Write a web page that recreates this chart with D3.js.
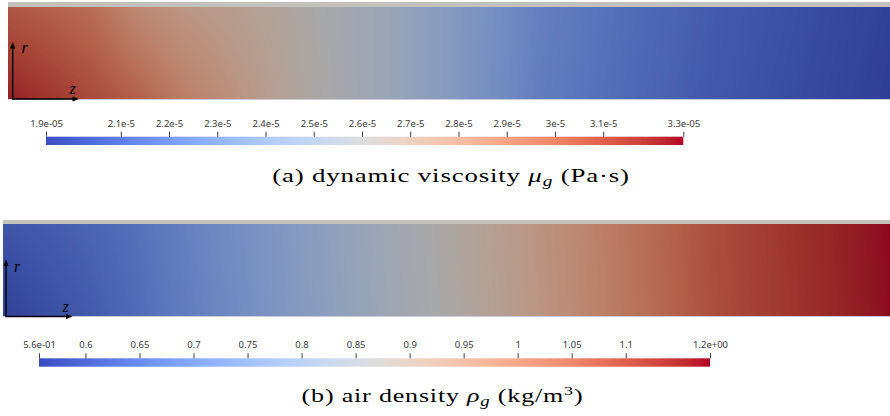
<!DOCTYPE html>
<html><head><meta charset="utf-8">
<script src="https://cdn.jsdelivr.net/npm/d3@7"></script>
<style>body{margin:0;background:#fff}svg{display:block}</style>
</head><body>
<svg id="chart" width="890" height="416"></svg>
<script>
// ---------- data ----------
const zFrac = [0,0.05,0.1,0.15,0.2,0.25,0.3,0.35,0.4,0.45,0.5,0.6,0.7,0.8,0.9,1.0];
// dynamic viscosity along axis (r=0) and at wall (r=R)
const muAxis = [3.226e-5,3.160e-5,3.094e-5,3.015e-5,2.896e-5,2.804e-5,2.711e-5,2.619e-5,2.553e-5,2.487e-5,2.407e-5,2.236e-5,2.143e-5,2.064e-5,2.011e-5,1.958e-5];
const muWall = [3.055e-5,3.015e-5,2.962e-5,2.830e-5,2.764e-5,2.724e-5,2.672e-5,2.606e-5,2.553e-5,2.487e-5,2.407e-5,2.249e-5,2.156e-5,2.077e-5,2.024e-5,1.971e-5];
const muRange = [1.945e-5,3.266e-5];
const muTicks = [1.945e-5,2.1e-5,2.2e-5,2.3e-5,2.4e-5,2.5e-5,2.6e-5,2.7e-5,2.8e-5,2.9e-5,3.0e-5,3.1e-5,3.266e-5];
const muLabels = ["1.9e-05","2.1e-5","2.2e-5","2.3e-5","2.4e-5","2.5e-5","2.6e-5","2.7e-5","2.8e-5","2.9e-5","3e-5","3.1e-5","3.3e-05"];
// air density along axis and at wall
const rhoAxis = [0.569,0.594,0.619,0.650,0.687,0.718,0.750,0.781,0.812,0.843,0.874,0.942,1.017,1.091,1.135,1.172];
const rhoWall = [0.607,0.619,0.638,0.662,0.695,0.724,0.755,0.786,0.816,0.848,0.879,0.947,1.021,1.094,1.138,1.174];
const rhoRange = [0.557,1.178];
const rhoTicks = [0.557,0.6,0.65,0.7,0.75,0.8,0.85,0.9,0.95,1.0,1.05,1.1,1.178];
const rhoLabels = ["5.6e-01","0.6","0.65","0.7","0.75","0.8","0.85","0.9","0.95","1","1.05","1.1","1.2e+00"];

// Cool to Warm colormap
const coolWarm = [[59,76,192],[68,90,204],[77,104,215],[87,117,225],[98,130,234],[108,142,241],[119,154,247],[130,165,251],[141,176,254],[152,185,255],[163,194,255],[174,201,253],[184,208,249],[194,213,244],[204,217,238],[213,219,230],[221,221,221],[229,216,209],[236,211,197],[241,204,185],[245,196,173],[247,187,160],[247,177,148],[247,166,135],[244,154,123],[241,141,111],[236,127,99],[229,112,88],[222,96,77],[213,80,66],[203,62,56],[192,40,47],[180,4,38]];

const svg = d3.select("#chart");
const cmapT = d3.range(coolWarm.length).map(i => i/(coolWarm.length-1));
const cmap = d3.scaleLinear().domain(cmapT).range(coolWarm.map(c => d3.rgb(c[0],c[1],c[2]))).interpolate(d3.interpolateRgb).clamp(true);
const LUTN = 1024;
const lut = d3.range(LUTN).map(i => d3.rgb(cmap(i/(LUTN-1))));
const shade = 0.76;

function drawField(x0, y0, w, h, axisVals, wallVals, range) {
  const canvas = document.createElement("canvas");
  canvas.width = w; canvas.height = h;
  const ctx = canvas.getContext("2d");
  const img = ctx.createImageData(w, h);
  const zScale = d3.scaleLinear().domain([0, w]).range([0, 1]);
  const rScale = d3.scaleLinear().domain([h, 0]).range([0, 1]);
  const axisS = d3.scaleLinear().domain(zFrac).range(axisVals);
  const wallS = d3.scaleLinear().domain(zFrac).range(wallVals);
  const tS = d3.scaleLinear().domain(range).range([0, LUTN-1]).clamp(true);
  for (let x = 0; x < w; x++) {
    const z = zScale(x + 0.5), a = axisS(z), b = wallS(z);
    for (let y = 0; y < h; y++) {
      const s = rScale(y + 0.5);
      const v = a + (b - a) * s;
      const c = lut[Math.round(tS(v))];
      const k = (y * w + x) * 4;
      img.data[k] = c.r * shade; img.data[k+1] = c.g * shade; img.data[k+2] = c.b * shade; img.data[k+3] = 255;
    }
  }
  ctx.putImageData(img, 0, 0);
  svg.append("image").attr("x", x0).attr("y", y0).attr("width", w).attr("height", h)
    .attr("preserveAspectRatio", "none").attr("href", canvas.toDataURL());
}

// gradient for colorbars
const defs = svg.append("defs");
const grad = defs.append("linearGradient").attr("id", "cw").attr("x1", "0%").attr("x2", "100%");
coolWarm.forEach((c, i) => grad.append("stop").attr("offset", (cmapT[i]*100) + "%").attr("stop-color", `rgb(${c[0]},${c[1]},${c[2]})`));

function colorbar(x0, x1, yTop, h, range, ticks, labels, pad) {
  const sc = d3.scaleLinear().domain(range).range([x0, x1]);
  svg.append("rect").attr("x", x0).attr("y", yTop).attr("width", x1 - x0).attr("height", h).attr("fill", "url(#cw)");
  const ax = d3.axisTop(sc).tickValues(ticks).tickFormat((d, i) => labels[i]).tickSize(5).tickPadding(pad);
  const g = svg.append("g").attr("transform", `translate(0,${yTop})`).call(ax);
  g.select(".domain").remove();
  g.selectAll(".tick line").attr("stroke", "#3c3c3c").attr("stroke-width", 1);
  g.selectAll(".tick text").attr("fill", "#3a3a3a").style("font-family", "'Noto Sans', sans-serif").style("font-size", "9.5px");
}

function axesGlyph(ox, oy, topY, rightX, rPos, zPos) {
  const g = svg.append("g");
  g.append("path").attr("d", `M${ox},${oy}V${topY+5}`).attr("stroke", "#000").attr("stroke-width", 1.4).attr("fill", "none");
  g.append("path").attr("d", `M${ox},${topY}l-2.6,6.5h5.2z`).attr("fill", "#000");
  g.append("path").attr("d", `M${ox-0.7},${oy}H${rightX-5}`).attr("stroke", "#000").attr("stroke-width", 1.4).attr("fill", "none");
  g.append("path").attr("d", `M${rightX},${oy}l-6.5,-2.6v5.2z`).attr("fill", "#000");
  g.append("text").attr("x", rPos[0]).attr("y", rPos[1]).text("r")
    .style("font-family", "'Liberation Serif', serif").style("font-style", "italic").style("font-size", "16px");
  g.append("text").attr("x", zPos[0]).attr("y", zPos[1]).text("z")
    .style("font-family", "'Liberation Serif', serif").style("font-style", "italic").style("font-size", "16px");
}

function caption(cx, baseline, targetW, parts) {
  const fs = 19.5;
  const g = svg.append("g");
  const t = g.append("text").attr("x", 0).attr("y", 0).attr("text-anchor", "middle")
    .style("font-family", "'Liberation Serif', serif").style("font-size", fs + "px").attr("fill", "#000")
    .style("letter-spacing", "0.6px");
  parts.forEach(p => {
    const ts = t.append("tspan").text(p.t);
    if (p.it) ts.style("font-style", "italic");
    if (p.dy) ts.attr("dy", p.dy);
    if (p.fs) ts.style("font-size", p.fs);
  });
  const w = t.node().getComputedTextLength();
  const k = targetW / w;
  g.attr("transform", `translate(${cx},${baseline}) scale(${k},1)`);
  return t;
}

// ---------- panel (a) ----------
svg.append("rect").attr("x", 8).attr("y", 2).attr("width", 882).attr("height", 5).attr("fill", "#c3c1bb");
drawField(8, 7, 882, 92, muAxis, muWall, muRange);
svg.append("rect").attr("x", 8).attr("y", 99).attr("width", 882).attr("height", 1).attr("fill", "#ccccd8");
axesGlyph(12.7, 99, 42, 79, [21.5, 53], [69.5, 94]);
colorbar(46, 683.3, 136.7, 8.3, muRange, muTicks, muLabels, 4.6);

// ---------- panel (b) ----------
svg.append("rect").attr("x", 3).attr("y", 220).attr("width", 887).attr("height", 4).attr("fill", "#c3c1bb");
drawField(3, 224, 887, 92, rhoAxis, rhoWall, rhoRange);
svg.append("rect").attr("x", 3).attr("y", 316).attr("width", 887).attr("height", 1).attr("fill", "#ccccd8");
axesGlyph(6, 316.5, 259.5, 72.5, [14, 272], [62.5, 312]);
colorbar(39, 710, 358.3, 8.4, rhoRange, rhoTicks, rhoLabels, 5.3);

// ---------- captions ----------
caption(451, 182, 358, [{t:"(a) dynamic viscosity "},{t:"μ", it:true},{t:"g", it:true, dy:"4", fs:"14px"},{t:" (Pa·s)", dy:"-4", fs:"19.5px"}]);
caption(442.5, 402, 282, [{t:"(b) air density "},{t:"ρ", it:true},{t:"g", it:true, dy:"4", fs:"14px"},{t:" (kg/m", dy:"-4", fs:"19.5px"},{t:"3", dy:"-7.5", fs:"13.5px"},{t:")", dy:"7.5", fs:"19.5px"}]);
</script>
</body></html>
